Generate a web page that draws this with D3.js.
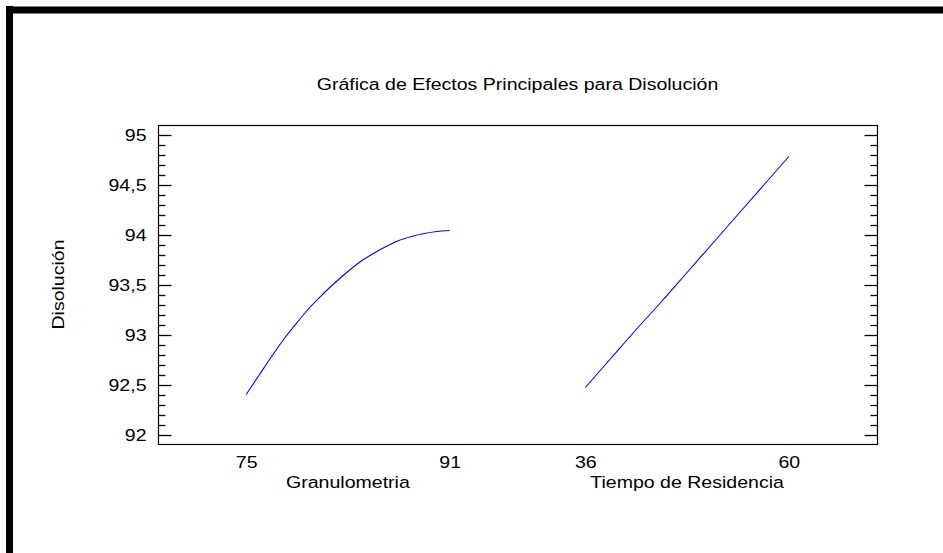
<!DOCTYPE html>
<html>
<head>
<meta charset="utf-8">
<script src="https://cdn.jsdelivr.net/npm/d3@7"></script>
<style>
  html, body { margin: 0; padding: 0; background: #fff; }
  svg { display: block; font-family: "Liberation Sans", Arial, sans-serif; }
</style>
</head>
<body>
<svg id="chart" width="943" height="553"></svg>
<script>
// Main effects plot for "Disolución": mean response at each factor level.
const title = "Gráfica de Efectos Principales para Disolución";
const yTitle = "Disolución";
const factors = ["Granulometria", "Tiempo de Residencia"];
const factorRanges = [[75, 91], [36, 60]];

const granLevels = [75, 76, 77, 78, 79, 80, 81, 82, 83, 84, 85, 86, 87, 88, 89, 90, 91];
const granValues = [92.40, 92.59, 92.78, 92.96, 93.12, 93.27, 93.40, 93.52, 93.63, 93.73, 93.81, 93.88, 93.94, 93.98, 94.01, 94.03, 94.04];

const tiempoLevels = [36, 39, 42, 45, 48, 51, 54, 57, 60];
const tiempoValues = [92.47, 92.76, 93.05, 93.33, 93.62, 93.91, 94.20, 94.49, 94.78];

const yMajorTicks = [92, 92.5, 93, 93.5, 94, 94.5, 95];
const yMinorTicks = [92.1, 92.2, 92.3, 92.4, 92.6, 92.7, 92.8, 92.9, 93.1, 93.2, 93.3, 93.4,
                     93.6, 93.7, 93.8, 93.9, 94.1, 94.2, 94.3, 94.4, 94.6, 94.7, 94.8, 94.9];
const yDomain = [91.905, 95.095];

const series = [
  { factor: factors[0], levels: granLevels, values: granValues },
  { factor: factors[1], levels: tiempoLevels, values: tiempoValues }
];

const svg = d3.select("#chart");
const W = 943, H = 553;
const plot = { left: 158, right: 877, top: 125, bottom: 444 };
const STRETCH = 1.15;   // wide lettering
const FONT = 17;

// comma decimal separator
const locale = d3.formatLocale({ decimal: ",", thousands: ".", grouping: [3], currency: ["", " €"] });
const fmt = locale.format(".1~f");

// page frame (top and left rules)
svg.append("line").attr("x1", 6).attr("x2", W).attr("y1", 10).attr("y2", 10)
  .attr("stroke", "#000").attr("stroke-width", 7);
svg.append("line").attr("x1", 9.5).attr("x2", 9.5).attr("y1", 6).attr("y2", H)
  .attr("stroke", "#000").attr("stroke-width", 7);

const y = d3.scaleLinear().domain(yDomain).range([plot.bottom, plot.top]);
const band = d3.scaleBand().domain(factors).range([plot.left, plot.right])
  .paddingInner(0.4).paddingOuter(0.26);
const xScales = factors.map((f, i) => d3.scaleLinear().domain(factorRanges[i])
  .range([band(f), band(f) + band.bandwidth()]));

function stretchText(sel, anchorAttr) {
  sel.each(function () {
    const t = d3.select(this);
    const x = +t.attr("x") || 0;
    const yy = +t.attr("y") || 0;
    t.attr("x", 0).attr("y", 0)
      .attr("transform", `translate(${x},${yy}) scale(${STRETCH},1)`);
  });
}

// plot box
svg.append("rect")
  .attr("x", plot.left + 0.5).attr("y", plot.top + 0.5)
  .attr("width", plot.right - plot.left).attr("height", plot.bottom - plot.top)
  .attr("fill", "none").attr("stroke", "#000").attr("stroke-width", 1.2);

// left axis: labelled major ticks pointing inward
const gL = svg.append("g").attr("transform", `translate(${plot.left + 0.5},0.5)`)
  .call(d3.axisLeft(y).tickValues(yMajorTicks).tickFormat(fmt)
    .tickSizeInner(-13).tickSizeOuter(0).tickPadding(12));
gL.select(".domain").remove();
gL.selectAll("text").attr("font-size", FONT).attr("font-family", null).attr("fill", "#000")
  .call(stretchText);
gL.selectAll("line").attr("stroke", "#000").attr("stroke-width", 1.3);

const gLm = svg.append("g").attr("transform", `translate(${plot.left + 0.5},0.5)`)
  .call(d3.axisLeft(y).tickValues(yMinorTicks).tickFormat("").tickSizeInner(-7).tickSizeOuter(0));
gLm.select(".domain").remove();
gLm.selectAll("line").attr("stroke", "#000").attr("stroke-width", 1.3);

// right axis mirrors the ticks without labels
const gR = svg.append("g").attr("transform", `translate(${plot.right + 0.5},0.5)`)
  .call(d3.axisRight(y).tickValues(yMajorTicks).tickFormat("").tickSizeInner(-13).tickSizeOuter(0));
gR.select(".domain").remove();
gR.selectAll("line").attr("stroke", "#000").attr("stroke-width", 1.3);
const gRm = svg.append("g").attr("transform", `translate(${plot.right + 0.5},0.5)`)
  .call(d3.axisRight(y).tickValues(yMinorTicks).tickFormat("").tickSizeInner(-7).tickSizeOuter(0));
gRm.select(".domain").remove();
gRm.selectAll("line").attr("stroke", "#000").attr("stroke-width", 1.3);

// level labels under each factor
factors.forEach((f, i) => {
  const g = svg.append("g").attr("transform", `translate(0,${plot.bottom})`)
    .call(d3.axisBottom(xScales[i]).tickValues(factorRanges[i]).tickFormat(d3.format("d"))
      .tickSize(0).tickPadding(12));
  g.select(".domain").remove();
  g.selectAll("text").attr("font-size", FONT).attr("font-family", null).attr("fill", "#000")
    .attr("dy", "0.71em").call(stretchText);

  svg.append("text")
    .attr("x", band(f) + band.bandwidth() / 2).attr("y", 488)
    .attr("text-anchor", "middle").attr("font-size", FONT).attr("fill", "#000")
    .text(f).call(stretchText);
});

// response curves
const line = d3.line().curve(d3.curveMonotoneX);
series.forEach((s, i) => {
  const pts = s.levels.map((l, j) => [xScales[i](l), y(s.values[j])]);
  svg.append("path").attr("d", line(pts))
    .attr("fill", "none").attr("stroke", "#0000ff").attr("stroke-width", 1.1);
});

// titles
svg.append("text")
  .attr("x", (plot.left + plot.right) / 2).attr("y", 90)
  .attr("text-anchor", "middle").attr("font-size", FONT).attr("fill", "#000")
  .text(title).call(stretchText);

svg.append("text")
  .attr("transform", `translate(64,${(plot.top + plot.bottom) / 2}) rotate(-90) scale(${STRETCH},1)`)
  .attr("text-anchor", "middle").attr("font-size", FONT).attr("fill", "#000")
  .text(yTitle);
</script>
</body>
</html>
